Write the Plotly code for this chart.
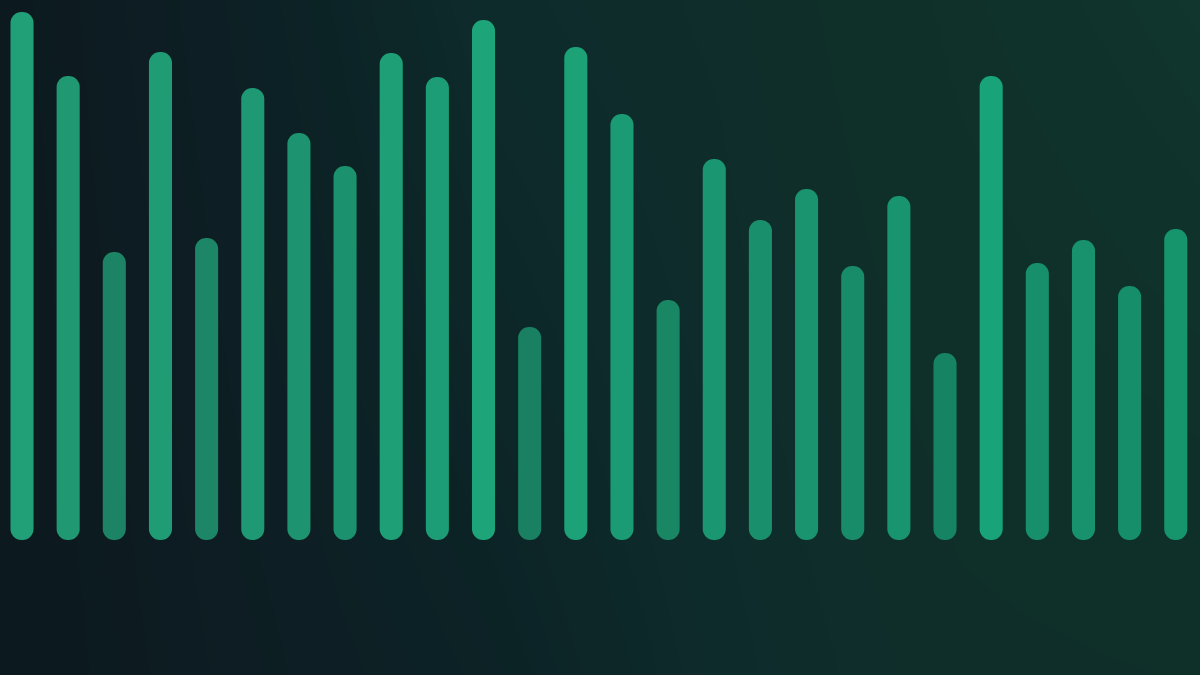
import plotly.graph_objects as go

# bar heights (baseline = 0)
slots = list(range(26))
heights = [528, 464, 288, 488, 302, 452, 407, 374, 487, 463, 520, 213,
           493, 426, 240, 381, 320, 351, 274, 344, 187, 464, 277, 300,
           254, 311]

# background gradient (dark teal on the left, green on the right)
bg_stops = ["#0c191e", "#0d1d23", "#0c2326", "#0e2b2b", "#0f2e29", "#0f3129", "#10362e"]
bg_x = [0, 240, 480, 720, 960, 1200]
bg_y = [0, 1]
bg_z = [[0, 1, 1.8, 3, 4, 4.2],
        [0.2, 1.5, 3, 3.6, 5, 6]]


def hex2rgb(h):
    h = h.lstrip("#")
    return [int(h[i:i + 2], 16) for i in (0, 2, 4)]


def bar_color(i, v):
    # green blended over the background; taller bars (and right side) brighter
    t = i / (len(slots) - 1)
    bg_l, bg_r = hex2rgb("#0d1c21"), hex2rgb("#0f3129")
    bg = [bg_l[k] + (bg_r[k] - bg_l[k]) * t for k in range(3)]
    fg_l, fg_r = [36, 176, 130], [24, 176, 128]
    fg = [fg_l[k] + (fg_r[k] - fg_l[k]) * t for k in range(3)]
    a = 0.44 + 0.45 * v / max(heights) + 0.08 * t
    c = [round(bg[k] + (fg[k] - bg[k]) * a) for k in range(3)]
    return "rgb(%d,%d,%d)" % tuple(c)


colors = [bar_color(i, v) for i, v in enumerate(heights)]

fig = go.Figure()

# background as a smoothed heatmap on its own axes
n = len(bg_stops)
fig.add_trace(go.Heatmap(
    x=bg_x, y=bg_y, z=bg_z,
    zsmooth="best",
    colorscale=[[k / (n - 1), c] for k, c in enumerate(bg_stops)],
    zmin=0, zmax=n - 1,
    showscale=False, hoverinfo="skip",
    xaxis="x", yaxis="y",
))

# bars; with an explicit base plotly rounds both ends
fig.add_trace(go.Bar(
    x=slots, y=heights, base=0,
    width=0.5, marker=dict(color=colors, line_width=0, cornerradius="50%"),
    xaxis="x2", yaxis="y2", hoverinfo="skip",
))

fig.update_layout(
    width=1200, height=675,
    margin=dict(l=0, r=0, t=0, b=0),
    showlegend=False,
    barmode="overlay",
    paper_bgcolor="#0c1a1f",
    plot_bgcolor="rgba(0,0,0,0)",
    xaxis=dict(range=[0, 1200], visible=False, fixedrange=True),
    yaxis=dict(range=[0, 1], visible=False, fixedrange=True),
    xaxis2=dict(range=[-0.477, 25.525], visible=False, overlaying="x"),
    yaxis2=dict(range=[-135, 540], visible=False, overlaying="y"),
)

fig.write_html("out.html", config={"displayModeBar": False},
               post_script="document.body.style.margin='0';")
